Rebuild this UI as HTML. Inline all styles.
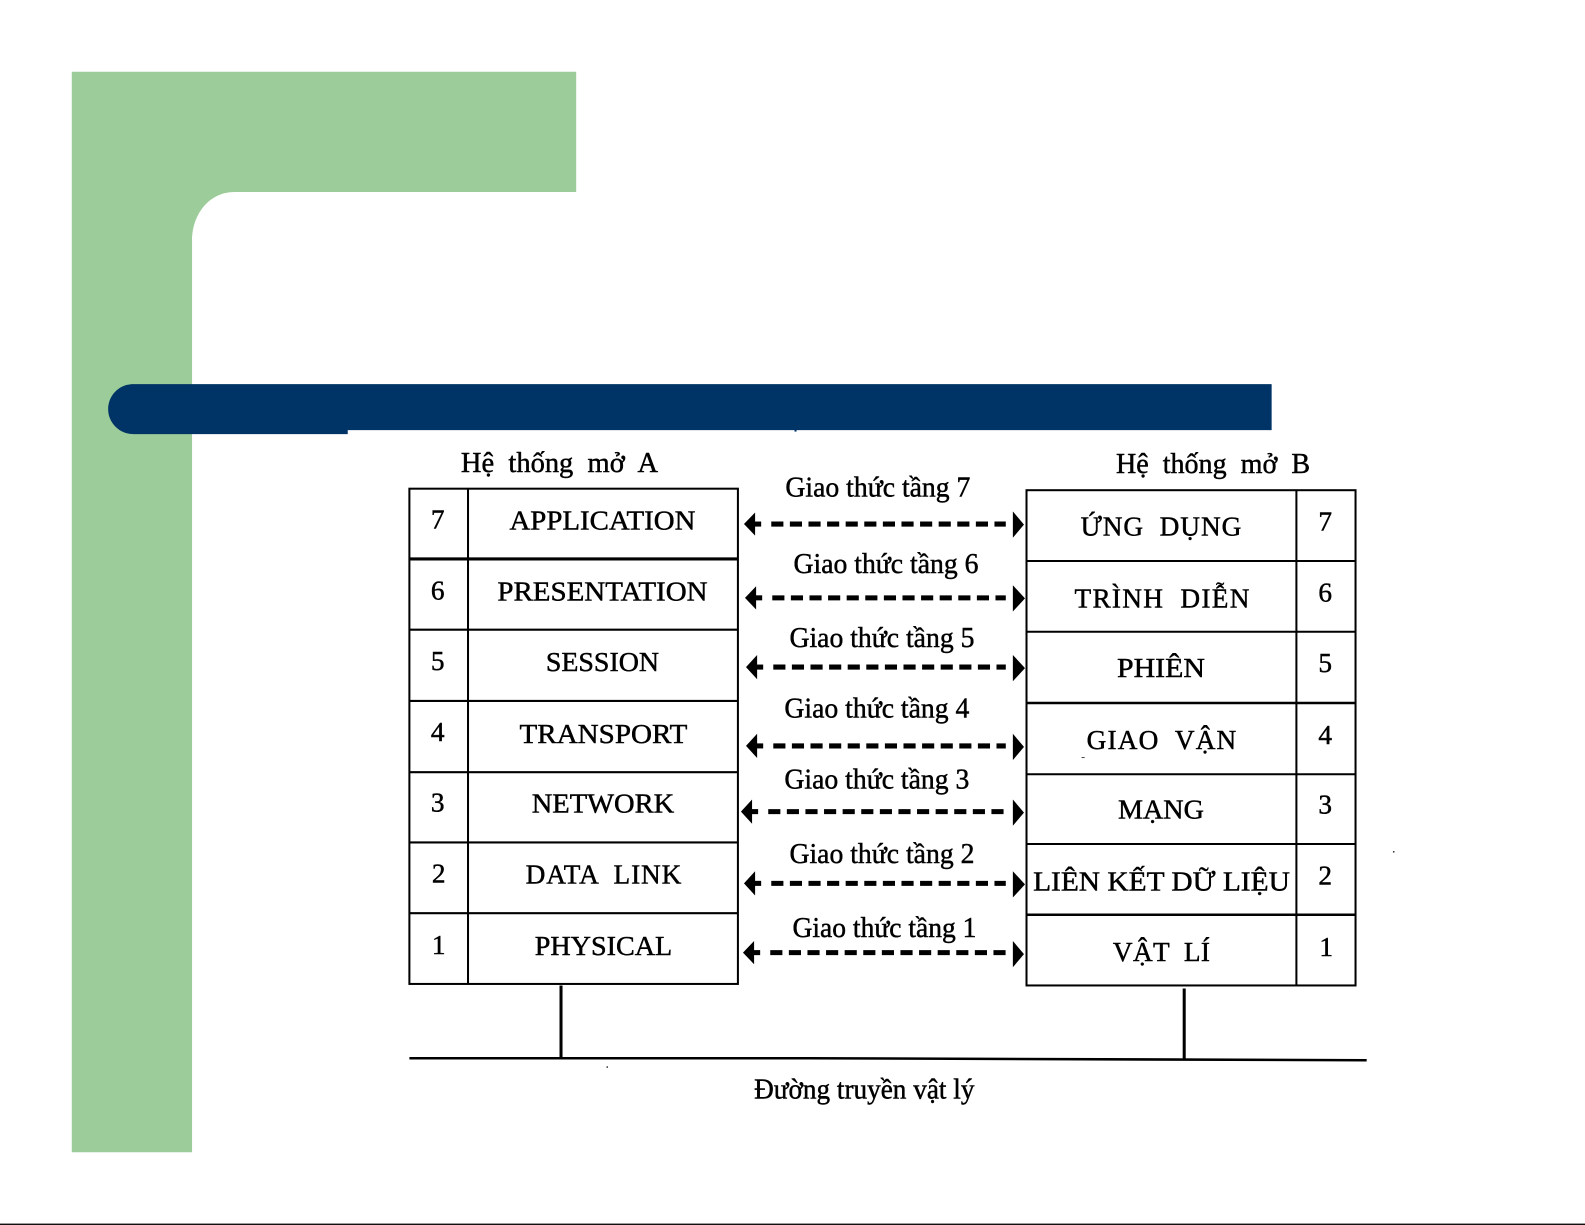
<!DOCTYPE html>
<html lang="vi">
<head>
<meta charset="utf-8">
<title>Mô hình OSI</title>
<style>
html,body{margin:0;padding:0;background:#fff;width:1585px;height:1225px;overflow:hidden}
svg{display:block}
text{font-family:"Liberation Serif","DejaVu Serif",serif;fill:#000;stroke:#000;stroke-width:.45px}
.c{font-size:27px}
.g{font-size:28px}
.n{font-size:27px;text-anchor:middle}
.l{stroke:#000;stroke-width:2;fill:none}
.d{stroke:#000;stroke-width:5;stroke-dasharray:12 6.4;fill:none}
.s{stroke:#000;stroke-width:5;fill:none}
</style>
</head>
<body>
<svg xmlns="http://www.w3.org/2000/svg" width="1585" height="1225" viewBox="0 0 1568 1212" preserveAspectRatio="none">
<rect width="1568" height="1212" fill="#fff"/>
<path d="M71 71H570V190H232C207 190 190 212 190 238V1140H71Z" fill="#9CCC99"/>
<path d="M132 380H1258V425.500H344V429.500H132C118 429.500 107 418 107 405C107 391 118 380 132 380Z" fill="#003366"/>
<rect x="786" y="425" width="2" height="2" fill="#003366"/>

<!-- left table -->
<rect class="l" x="405" y="483.500" width="325" height="490"/>
<path class="l" d="M463 484V973M405 553H730M405 623H730M405 693.500H730M405 764H730M405 833.500H730M405 903.500H730"/>
<path d="M405 553H730" stroke="#000" stroke-width="3"/>
<!-- right table -->
<rect class="l" x="1015.500" y="485" width="325.500" height="490"/>
<path class="l" d="M1282.500 485V975M1015 555H1341M1015 625H1341M1015 695.500H1341M1015 766H1341M1015 835H1341M1015 905H1341"/>
<path d="M1015 695.500H1341M1015 905H1341" stroke="#000" stroke-width="2.500"/>
<!-- bus -->
<path d="M555 975V1047M1171.500 978V1048" stroke="#000" stroke-width="3"/>
<path d="M405 1047H800L1352 1049" stroke="#000" stroke-width="2.500" fill="none"/>
<rect x="600" y="1055" width="1.500" height="1.500" fill="#333"/>
<rect x="1378" y="842" width="1.500" height="1.500" fill="#333"/>
<rect x="1070" y="749" width="3" height="1" fill="#444"/>

<!-- arrows -->
<g fill="#000">
<path class="s" d="M745 518.500H753"/><path class="d" d="M763 518.500H995"/><path d="M736 518.500L747 507V530ZM1013 519L1002 506V532Z"/>
<path class="s" d="M746 591.500H754"/><path class="d" d="M764 591.500H995"/><path d="M737 591.500L748 580V603ZM1014 592L1002 579V605Z"/>
<path class="s" d="M747 660H755"/><path class="d" d="M765 660H995"/><path d="M738 660L749 648V672ZM1014 661L1002 648V674Z"/>
<path class="s" d="M747 738H755"/><path class="d" d="M765 738H995"/><path d="M738 738L749 726V750ZM1013 739L1002 726V752Z"/>
<path class="s" d="M742 803H750"/><path class="d" d="M760 803H995"/><path d="M733 803L744 791V815ZM1013 804L1002 791V817Z"/>
<path class="s" d="M745 874H753"/><path class="d" d="M763 874H995"/><path d="M736 874L747 862V886ZM1014 875L1002 862V888Z"/>
<path class="s" d="M744 942.500H752"/><path class="d" d="M762 942.500H995"/><path d="M735 942.500L746 931V954ZM1013 944L1002 931V957Z"/>
</g>

<!-- headers -->
<text class="g" x="456" y="467" textLength="195" lengthAdjust="spacingAndGlyphs" xml:space="preserve">Hệ  thống  mở  A</text>
<text class="g" x="1104" y="468" textLength="192" lengthAdjust="spacingAndGlyphs" xml:space="preserve">Hệ  thống  mở  B</text>

<!-- protocol labels -->
<text class="g" x="777" y="491" textLength="183" lengthAdjust="spacingAndGlyphs">Giao thức tầng 7</text>
<text class="g" x="785" y="567" textLength="183" lengthAdjust="spacingAndGlyphs">Giao thức tầng 6</text>
<text class="g" x="781" y="640" textLength="183" lengthAdjust="spacingAndGlyphs">Giao thức tầng 5</text>
<text class="g" x="776" y="710" textLength="183" lengthAdjust="spacingAndGlyphs">Giao thức tầng 4</text>
<text class="g" x="776" y="780" textLength="183" lengthAdjust="spacingAndGlyphs">Giao thức tầng 3</text>
<text class="g" x="781" y="854" textLength="183" lengthAdjust="spacingAndGlyphs">Giao thức tầng 2</text>
<text class="g" x="784" y="927" textLength="182" lengthAdjust="spacingAndGlyphs">Giao thức tầng 1</text>

<!-- left numbers -->
<text class="n" x="433" y="523">7</text>
<text class="n" x="433" y="593">6</text>
<text class="n" x="433" y="663">5</text>
<text class="n" x="433" y="733">4</text>
<text class="n" x="433" y="803">3</text>
<text class="n" x="434" y="873">2</text>
<text class="n" x="434" y="944">1</text>

<!-- left names -->
<text class="c" x="504" y="524" textLength="184" lengthAdjust="spacingAndGlyphs">APPLICATION</text>
<text class="c" x="492" y="594" textLength="208" lengthAdjust="spacingAndGlyphs">PRESENTATION</text>
<text class="c" x="540" y="664" textLength="112" lengthAdjust="spacingAndGlyphs">SESSION</text>
<text class="c" x="514" y="735" textLength="166" lengthAdjust="spacingAndGlyphs">TRANSPORT</text>
<text class="c" x="526" y="804" textLength="141" lengthAdjust="spacingAndGlyphs">NETWORK</text>
<text class="c" x="520" y="874" textLength="154" lengthAdjust="spacing" xml:space="preserve">DATA  LINK</text>
<text class="c" x="529" y="945" textLength="136" lengthAdjust="spacingAndGlyphs">PHYSICAL</text>

<!-- right names -->
<text class="c" x="1069" y="530" textLength="159" lengthAdjust="spacing" xml:space="preserve">ỨNG  DỤNG</text>
<text class="c" x="1063" y="601" textLength="173" lengthAdjust="spacing" xml:space="preserve">TRÌNH  DIỄN</text>
<text class="c" x="1105" y="670" textLength="87" lengthAdjust="spacingAndGlyphs">PHIÊN</text>
<text class="c" x="1075" y="741" textLength="148" lengthAdjust="spacing" xml:space="preserve">GIAO  VẬN</text>
<text class="c" x="1106" y="810" textLength="85" lengthAdjust="spacingAndGlyphs">MẠNG</text>
<text class="c" x="1022" y="881" textLength="254" lengthAdjust="spacingAndGlyphs">LIÊN KẾT DỮ LIỆU</text>
<text class="c" x="1101" y="951" textLength="96" lengthAdjust="spacing" xml:space="preserve">VẬT  LÍ</text>

<!-- right numbers -->
<text class="n" x="1311" y="525">7</text>
<text class="n" x="1311" y="595">6</text>
<text class="n" x="1311" y="665">5</text>
<text class="n" x="1311" y="736">4</text>
<text class="n" x="1311" y="805">3</text>
<text class="n" x="1311" y="875">2</text>
<text class="n" x="1312" y="946">1</text>

<text class="g" x="746" y="1087" textLength="218" lengthAdjust="spacingAndGlyphs">Đường truyền vật lý</text>

<rect x="0" y="1210.600" width="1568" height="1.400" fill="#111"/>
</svg>
</body>
</html>
